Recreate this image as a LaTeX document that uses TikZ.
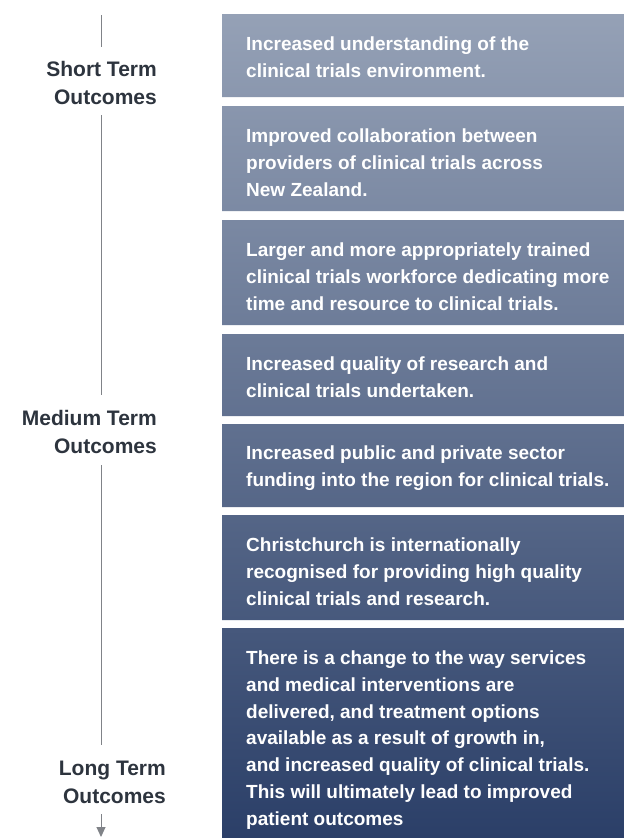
\documentclass[tikz,border=0pt]{standalone}
\usepackage{fontspec}
\setmainfont{Liberation Sans}
\usetikzlibrary{arrows.meta}
\definecolor{labelc}{RGB}{45,52,62}
\definecolor{linec}{RGB}{128,131,136}
\definecolor{gtop}{RGB}{149,161,182}
\definecolor{gmid}{RGB}{104,120,149}
\definecolor{gbot}{RGB}{43,63,104}
\begin{document}
\begin{tikzpicture}[x=1pt,y=-1pt,
  boxtext/.style={anchor=base west, inner sep=0pt, align=left, text=white,
    font=\bfseries\fontsize{19}{26.7}\selectfont},
  termlabel/.style={anchor=base east, inner sep=0pt, align=right, text=labelc,
    font=\bfseries\fontsize{21}{28}\selectfont},
  timeline/.style={draw=linec, line width=1pt}]
\useasboundingbox (0,0) rectangle (624,838);
\fill[white] (0,0) rectangle (624,838);
% boxes filled by one continuous gradient
\begin{scope}
\clip (222,14) rectangle (624,97)
      (222,106) rectangle (624,211)
      (222,220) rectangle (624,325)
      (222,334) rectangle (624,416)
      (222,424) rectangle (624,507)
      (222,515) rectangle (624,620)
      (222,628) rectangle (624,838);
\shade[top color=gtop, middle color=gmid, bottom color=gbot] (222,14) rectangle (624,838);
\end{scope}
% box texts (anchored at the baseline of their last line)
\node[boxtext] (t1) at (246,77) {Increased understanding of the\\clinical trials environment.};
\node[boxtext] (t2) at (246,196) {Improved collaboration between\\providers of clinical trials across\\New Zealand.};
\node[boxtext] (t3) at (246,310) {Larger and more appropriately trained\\clinical trials workforce dedicating more\\time and resource to clinical trials.};
\node[boxtext] (t4) at (246,397) {Increased quality of research and\\clinical trials undertaken.};
\node[boxtext] (t5) at (246,486) {Increased public and private sector\\funding into the region for clinical trials.};
\node[boxtext] (t6) at (246,605) {Christchurch is internationally\\recognised for providing high quality\\clinical trials and research.};
\node[boxtext] (t7) at (246,825) {There is a change to the way services\\and medical interventions are\\delivered, and treatment options\\available as a result of growth in,\\and increased quality of clinical trials.\\This will ultimately lead to improved\\patient outcomes};
% term labels
\node[termlabel] (st) at (157,104) {Short Term\\Outcomes};
\node[termlabel] (mt) at (157,453) {Medium Term\\Outcomes};
\node[termlabel] (lt) at (166,803) {Long Term\\Outcomes};
% timeline
\coordinate (a0) at (101,15);
\coordinate (a1) at (101,47);
\coordinate (a2) at (101,115);
\coordinate (a3) at (101,395);
\coordinate (a4) at (101,465);
\coordinate (a5) at (101,745);
\coordinate (a6) at (101,814);
\coordinate (a7) at (101,837);
\draw[timeline] (a0) -- (a1);
\draw[timeline] (a2) -- (a3);
\draw[timeline] (a4) -- (a5);
\draw[timeline, -{Triangle[width=9pt,length=10pt]}] (a6) -- (a7);
\end{tikzpicture}
\end{document}
